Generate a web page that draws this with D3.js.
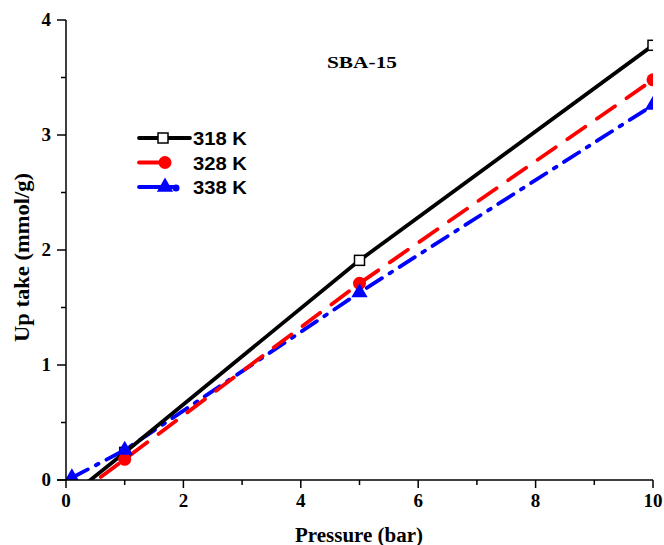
<!DOCTYPE html>
<html><head><meta charset="utf-8">
<script src="https://cdn.jsdelivr.net/npm/d3@7"></script>
<style>body{margin:0;background:#fff}</style>
</head><body>
<svg id="c" width="664" height="545"></svg>
<script>
const pressure = [0.1, 1, 5, 10];
const s318 = [-0.13, 0.24, 1.91, 3.78];
const s328 = [-0.16, 0.18, 1.71, 3.48];
const s338 = [0.02, 0.26, 1.63, 3.26];
const seriesNames = ["318 K", "328 K", "338 K"];
const xTicks = [0, 2, 4, 6, 8, 10];
const yTicks = [0, 1, 2, 3, 4];
const title = "SBA-15";
const xTitle = "Pressure (bar)";
const yTitle = "Up take (mmol/g)";

const svg = d3.select("#c");
const x = d3.scaleLinear().domain([0, 10]).range([66, 653]);
const y = d3.scaleLinear().domain([0, 4]).range([480, 20]);

const serif = "'Liberation Serif','Times New Roman',serif";
const sans = "'Liberation Sans',Arial,sans-serif";

svg.append("defs").append("clipPath").attr("id","clip")
  .append("rect").attr("x",66).attr("y",0).attr("width",653-66).attr("height",480);

const styles = [
  {color:"#000", dash:null, marker:"square"},
  {color:"#ff0000", dash:"22,14", marker:"circle"},
  {color:"#0000ff", dash:"18,9,3,9", marker:"triangle"}
];
const data = [s318, s328, s338];

const g = svg.append("g").attr("clip-path","url(#clip)");
const line = d3.line().x((d,i)=>x(pressure[i])).y(d=>y(d));

function drawMarker(sel, type, color, cx, cy){
  if(type==="square"){
    sel.append("rect").attr("x",cx-5).attr("y",cy-5).attr("width",10).attr("height",10)
      .attr("fill","#fff").attr("stroke","#000").attr("stroke-width",1.5);
  } else if(type==="circle"){
    sel.append("circle").attr("cx",cx).attr("cy",cy).attr("r",6.5).attr("fill",color);
  } else {
    sel.append("path").attr("d",d3.symbol().type(d3.symbolTriangle).size(115)())
      .attr("transform",`translate(${cx},${cy})`).attr("fill",color);
  }
}

[2,1,0].forEach(k=>{
  g.append("path").datum(data[k]).attr("d",line).attr("fill","none")
    .attr("stroke",styles[k].color).attr("stroke-width",3.8)
    .attr("stroke-linecap","round")
    .attr("stroke-dasharray",styles[k].dash);
});
[0,1,2].forEach(k=>{
  data[k].forEach((v,i)=>{
    if(v>=0) drawMarker(g, styles[k].marker, styles[k].color, x(pressure[i]), y(v));
  });
});

// axes
const xAxis = svg.append("g").attr("transform","translate(0,480)");
xAxis.append("line").attr("x1",57).attr("x2",653).attr("stroke","#000").attr("stroke-width",1.5);
d3.range(0,10.01,1).forEach(t=>{
  const major = t%2===0;
  xAxis.append("line").attr("x1",x(t)).attr("x2",x(t)).attr("y1",0).attr("y2",major?8:5)
    .attr("stroke","#000").attr("stroke-width",1.5);
});
xTicks.forEach(t=>{
  xAxis.append("text").attr("x",x(t)).attr("y",27).attr("text-anchor","middle")
    .attr("font-family",serif).attr("font-weight","bold").attr("font-size",19).text(t);
});
const yAxis = svg.append("g");
yAxis.append("line").attr("x1",66).attr("x2",66).attr("y1",20).attr("y2",480).attr("stroke","#000").attr("stroke-width",1.5);
d3.range(0,4.01,0.5).forEach(t=>{
  const major = Math.abs(t-Math.round(t))<1e-6;
  yAxis.append("line").attr("x1",66-(major?9:5)).attr("x2",66).attr("y1",y(t)).attr("y2",y(t))
    .attr("stroke","#000").attr("stroke-width",1.5);
});
yTicks.forEach(t=>{
  yAxis.append("text").attr("x",51).attr("y",y(t)+6).attr("text-anchor","end")
    .attr("font-family",serif).attr("font-weight","bold").attr("font-size",19).text(t);
});

svg.append("text").attr("x",295).attr("y",542)
  .attr("font-family",serif).attr("font-weight","bold").attr("font-size",20)
  .attr("textLength",128).attr("lengthAdjust","spacingAndGlyphs").text(xTitle);
svg.append("text").attr("transform","translate(29,342) rotate(-90)")
  .attr("font-family",serif).attr("font-weight","bold").attr("font-size",20)
  .attr("textLength",169).attr("lengthAdjust","spacingAndGlyphs").text(yTitle);
svg.append("text").attr("x",327).attr("y",68)
  .attr("font-family",serif).attr("font-weight","bold").attr("font-size",17)
  .attr("textLength",70).attr("lengthAdjust","spacingAndGlyphs").text(title);

// legend
const leg = svg.append("g");
const legEnd = [190, 163, 177];
seriesNames.forEach((n,k)=>{
  const ly = 138 + k*24.5;
  leg.append("line").attr("x1",139).attr("x2",legEnd[k]).attr("y1",ly).attr("y2",ly)
    .attr("stroke",styles[k].color).attr("stroke-width",3.8).attr("stroke-linecap","round");
  drawMarker(leg, styles[k].marker, styles[k].color, k===0?163:165, ly);
  if(k===2){ leg.append("circle").attr("cx",176).attr("cy",ly+1).attr("r",3.5).attr("fill",styles[k].color); }
  leg.append("text").attr("x",193).attr("y",ly+7).attr("font-family",sans)
    .attr("font-weight","bold").attr("font-size",18)
    .attr("textLength",54).attr("lengthAdjust","spacingAndGlyphs").text(n);
});
</script>
</body></html>
